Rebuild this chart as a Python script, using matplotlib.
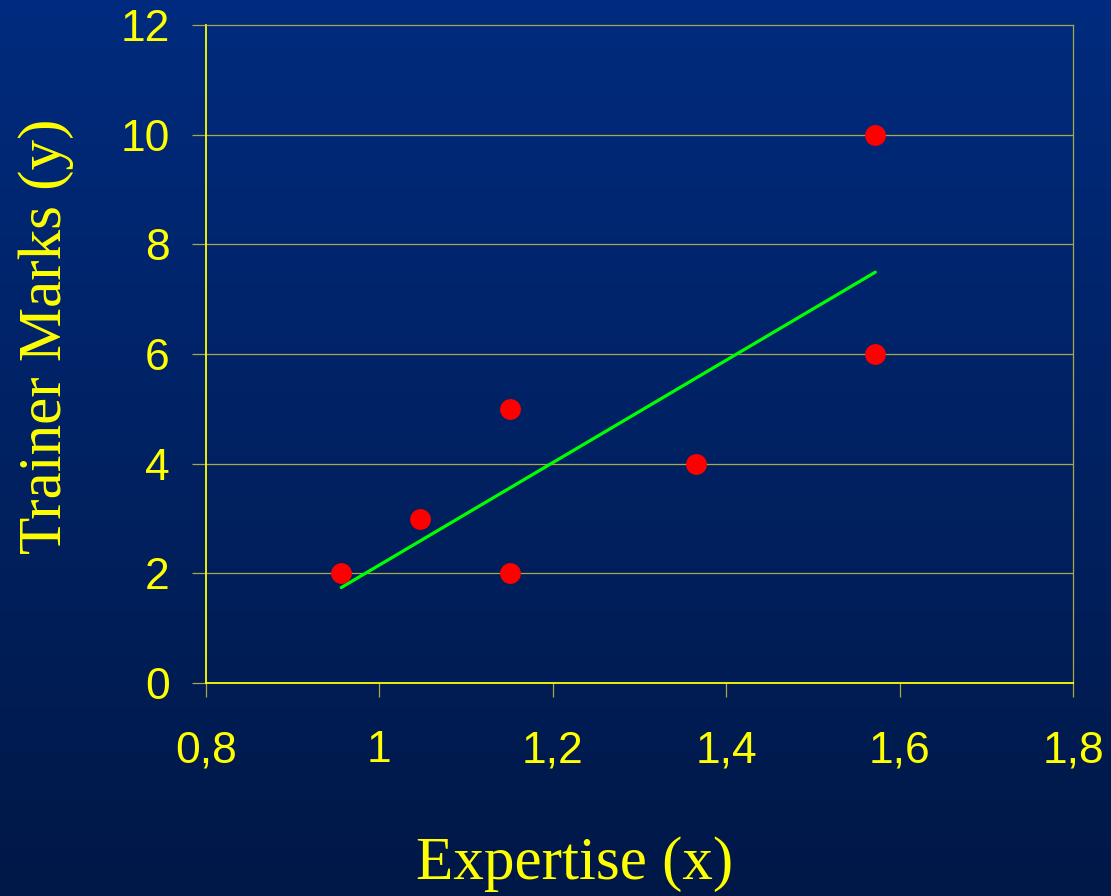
import numpy as np
import matplotlib
matplotlib.use("Agg")
import matplotlib.pyplot as plt
from matplotlib.colors import LinearSegmentedColormap

# Expertise scores (x) and trainer marks (y)
expertise = [0.956, 1.047, 1.151, 1.151, 1.365, 1.572, 1.572]
marks = [2, 3, 5, 2, 4, 10, 6]

x_ticks = [0.8, 1.0, 1.2, 1.4, 1.6, 1.8]
x_tick_labels = ["0,8", "1", "1,2", "1,4", "1,6", "1,8"]
y_ticks = [0, 2, 4, 6, 8, 10, 12]
y_tick_labels = ["0", "2", "4", "6", "8", "10", "12"]

YELLOW = "#ffff00"
OLIVE = "#a8a84a"

fig = plt.figure(figsize=(11.11, 8.96), dpi=100)

# vertical blue gradient behind everything
bg = fig.add_axes([0, 0, 1, 1], zorder=-10)
cmap = LinearSegmentedColormap.from_list("bg", ["#002b7e", "#001847"])
bg.imshow(np.linspace(0, 1, 256).reshape(-1, 1), aspect="auto", cmap=cmap,
          extent=[0, 1, 0, 1])
bg.set_axis_off()

ax = fig.add_axes([206 / 1111, 1 - 683 / 896, 867 / 1111, 658 / 896])
ax.patch.set_alpha(0)

# least-squares fit line over the observed range
slope, intercept = np.polyfit(expertise, marks, 1)
x_fit = np.array([min(expertise), max(expertise)])
ax.plot(x_fit, slope * x_fit + intercept, color="#00ff00", lw=2.3,
        solid_capstyle="round", zorder=3)

ax.plot(expertise, marks, "o", color="#ff0000", markersize=15,
        markeredgewidth=0, zorder=4)

ax.set_xlim(0.8, 1.8)
ax.set_ylim(0, 12)
ax.set_xticks(x_ticks)
ax.set_xticklabels(x_tick_labels)
ax.set_yticks(y_ticks)
ax.set_yticklabels(y_tick_labels)

for y in y_ticks[1:-1]:
    ax.axhline(y, color=OLIVE, lw=0.9, zorder=1)

for side in ("top", "right"):
    ax.spines[side].set_color(OLIVE)
    ax.spines[side].set_linewidth(0.9)
for side in ("left", "bottom"):
    ax.spines[side].set_color(YELLOW)
    ax.spines[side].set_linewidth(1.3)

ax.tick_params(axis="both", colors=OLIVE, length=10, width=0.9,
               labelcolor=YELLOW, labelsize=32)
ax.tick_params(axis="x", pad=24)
ax.tick_params(axis="y", pad=16)
for lab in ax.get_xticklabels() + ax.get_yticklabels():
    lab.set_family("Liberation Sans")

fig.text(575 / 1111, 1 - 864 / 896, "Expertise (x)", color=YELLOW,
         family="Liberation Serif", fontsize=44, ha="center", va="center")
fig.text(46 / 1111, 1 - 336 / 896, "Trainer Marks (y)", color=YELLOW,
         family="Liberation Serif", fontsize=44, ha="center", va="center",
         rotation=90)

fig.savefig("out.png", dpi=100)
